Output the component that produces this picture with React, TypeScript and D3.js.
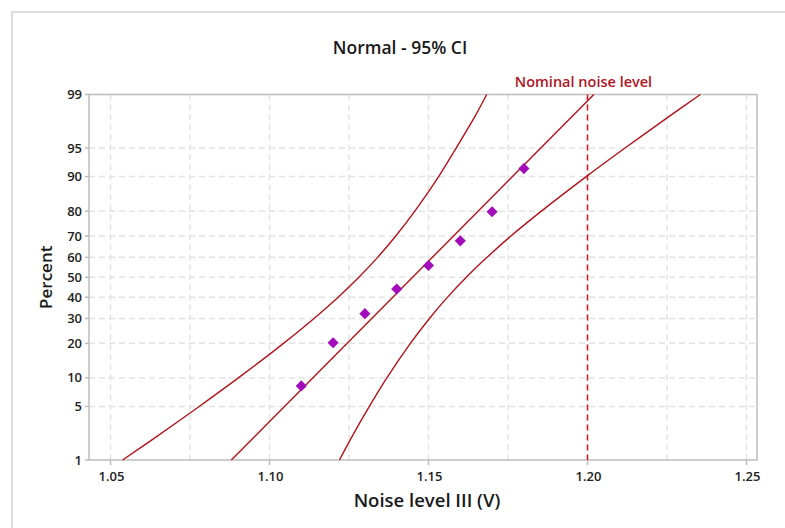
import React from "react";
import * as d3 from "d3";

// ---- data ----
const noiseLevels = [1.11, 1.12, 1.13, 1.14, 1.15, 1.16, 1.17, 1.18];
const percents = [8.33, 20.24, 32.14, 44.05, 55.95, 67.86, 79.76, 91.67];

const fitPercents = [1, 99];
const fitValues = [1.088, 1.202];

const ciPercents = [1, 2, 5, 10, 20, 30, 40, 50, 60, 70, 80, 90, 95, 98, 99];
const ciLower = [1.0538, 1.0636, 1.0779, 1.0902, 1.1044, 1.114, 1.1216, 1.1281, 1.134, 1.1397, 1.1457, 1.1532, 1.1587, 1.1647, 1.1683];
const ciUpper = [1.122, 1.1256, 1.1314, 1.1369, 1.1443, 1.1503, 1.156, 1.1619, 1.1684, 1.1759, 1.1855, 1.1996, 1.2118, 1.2259, 1.2355];

const percentTicks = [1, 5, 10, 20, 30, 40, 50, 60, 70, 80, 90, 95, 99];
const xTicks = [1.05, 1.1, 1.15, 1.2, 1.25];
const xGrid = [1.05, 1.075, 1.1, 1.125, 1.15, 1.175, 1.2, 1.225, 1.25];
const nominalLevel = 1.2;

const titleText = "Normal - 95% CI";
const xTitle = "Noise level III (V)";
const yTitle = "Percent";
const nominalLabel = "Nominal noise level";

// inverse normal CDF (probability scale transform)
function probit(p: number): number {
  const a = [-3.969683028665376e1, 2.209460984245205e2, -2.759285104469687e2, 1.38357751867269e2, -3.066479806614716e1, 2.506628277459239];
  const b = [-5.447609879822406e1, 1.615858368580409e2, -1.556989798598866e2, 6.680131188771972e1, -1.328068155288572e1];
  const c = [-7.784894002430293e-3, -3.223964580411365e-1, -2.400758277161838, -2.549732539343734, 4.374664141464968, 2.938163982698783];
  const d = [7.784695709041462e-3, 3.224671290700398e-1, 2.445134137142996, 3.754408661907416];
  const pl = 0.02425;
  if (p < pl) {
    const q = Math.sqrt(-2 * Math.log(p));
    return (((((c[0] * q + c[1]) * q + c[2]) * q + c[3]) * q + c[4]) * q + c[5]) / ((((d[0] * q + d[1]) * q + d[2]) * q + d[3]) * q + 1);
  }
  if (p > 1 - pl) {
    const q = Math.sqrt(-2 * Math.log(1 - p));
    return -(((((c[0] * q + c[1]) * q + c[2]) * q + c[3]) * q + c[4]) * q + c[5]) / ((((d[0] * q + d[1]) * q + d[2]) * q + d[3]) * q + 1);
  }
  const q = p - 0.5;
  const r = q * q;
  return ((((((a[0] * r + a[1]) * r + a[2]) * r + a[3]) * r + a[4]) * r + a[5]) * q) / (((((b[0] * r + b[1]) * r + b[2]) * r + b[3]) * r + b[4]) * r + 1);
}

export default function App() {
  const W = 785, H = 528;
  const left = 89, right = 757, top = 94.5, bottom = 460;
  const x = d3.scaleLinear().domain([1.05, 1.25]).range([110.5, 746.5]);
  const yz = d3.scaleLinear().domain([probit(0.01), probit(0.99)]).range([bottom, top]);
  const y = (pct: number) => yz(probit(pct / 100));

  const lineColor = "#b5121b";
  const font = "'Open Sans', 'Noto Sans', sans-serif";
  const gridColor = "#e3e3e3";
  const axisColor = "#bdbdbd";

  const line = d3.line<[number, number]>().x((d) => x(d[0])).y((d) => y(d[1])).curve(d3.curveCatmullRom.alpha(0.5));
  const lowerPts = ciPercents.map((p, i) => [ciLower[i], p] as [number, number]);
  const upperPts = ciPercents.map((p, i) => [ciUpper[i], p] as [number, number]);
  const fitPts = fitPercents.map((p, i) => [fitValues[i], p] as [number, number]);

  const diamond = d3.symbol(d3.symbolSquare, 62)() as string;

  return (
    <svg width={W} height={H} style={{ position: "absolute", left: 0, top: 0, background: "#fff" }}>
      <rect x={12} y={12} width={800} height={560} fill="#fff" stroke="#dedede" strokeWidth={2} />
      <text x={400} y={54} textAnchor="middle" fontFamily={font} fontWeight={600} fontSize={17.5} fill="#1a1a1a">{titleText}</text>

      {/* grid */}
      {xGrid.map((g) => (
        <line key={"gx" + g} x1={x(g)} x2={x(g)} y1={top} y2={bottom} stroke={gridColor} strokeWidth={1.5} strokeDasharray="6,4" />
      ))}
      {percentTicks.filter((p) => p !== 1 && p !== 99).map((p) => (
        <line key={"gy" + p} x1={left} x2={right} y1={y(p)} y2={y(p)} stroke={gridColor} strokeWidth={1.5} strokeDasharray="6,4" />
      ))}

      {/* frame */}
      <rect x={left} y={top} width={right - left} height={bottom - top} fill="none" stroke={axisColor} strokeWidth={1.5} />

      {/* y ticks */}
      {percentTicks.map((p) => (
        <g key={"ty" + p}>
          <line x1={left - 4} x2={left} y1={y(p)} y2={y(p)} stroke={axisColor} strokeWidth={1.5} />
          <text x={left - 7} y={y(p) + 4.5} textAnchor="end" fontFamily={font} fontWeight={600} fontSize={13} fill="#222">{p}</text>
        </g>
      ))}
      {/* x ticks */}
      {xTicks.map((t) => (
        <g key={"tx" + t}>
          <line x1={x(t)} x2={x(t)} y1={bottom} y2={bottom + 5} stroke={axisColor} strokeWidth={1.5} />
          <text x={x(t) + 1} y={481} textAnchor="middle" fontFamily={font} fontWeight={600} fontSize={13} fill="#222">{d3.format(".2f")(t)}</text>
        </g>
      ))}

      <text x={427} y={507} textAnchor="middle" fontFamily={font} fontWeight={600} fontSize={18.5} fill="#1a1a1a">{xTitle}</text>
      <text transform={`translate(52,${y(50)}) rotate(-90)`} textAnchor="middle" fontFamily={font} fontWeight={600} fontSize={17} fill="#1a1a1a">{yTitle}</text>

      {/* nominal line */}
      <line x1={x(nominalLevel)} x2={x(nominalLevel)} y1={top} y2={bottom} stroke="#e0141e" strokeWidth={1.5} strokeDasharray="6,4" />
      <text x={x(nominalLevel) - 4} y={87} textAnchor="middle" fontFamily={font} fontWeight={600} fontSize={14.5} fill="#b0141e">{nominalLabel}</text>

      {/* fit & CI */}
      <path d={line(lowerPts) as string} fill="none" stroke={lineColor} strokeWidth={1.4} />
      <path d={line(upperPts) as string} fill="none" stroke={lineColor} strokeWidth={1.4} />
      <path d={line(fitPts) as string} fill="none" stroke={lineColor} strokeWidth={1.4} />

      {/* points */}
      {noiseLevels.map((v, i) => (
        <path key={"pt" + i} d={diamond} transform={`translate(${x(v)},${y(percents[i])}) rotate(45)`} fill="#a30cbb" />
      ))}
    </svg>
  );
}
